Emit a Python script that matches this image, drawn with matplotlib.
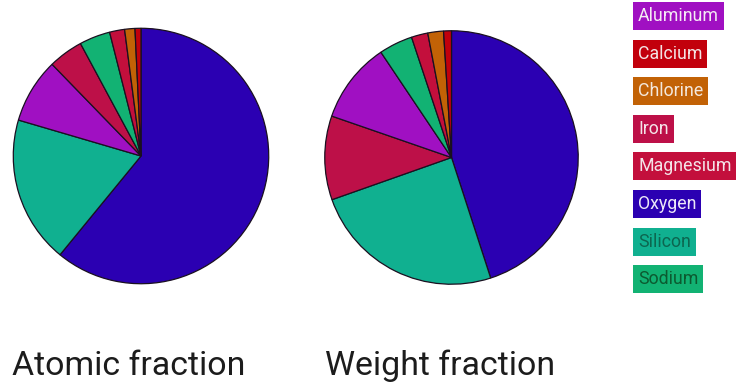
import matplotlib.pyplot as plt

plt.rcParams['font.family'] = ['Roboto', 'DejaVu Sans']

# element composition, percent
elements = ["Aluminum", "Calcium", "Chlorine", "Iron", "Magnesium", "Oxygen", "Silicon", "Sodium"]
atomic_pct = [8.2, 0.75, 1.3, 4.4, 1.9, 60.9, 18.6, 3.9]
weight_pct = [10.3, 1.0, 2.0, 10.7, 2.1, 45.0, 24.6, 4.3]

colors = ["#a010c2", "#c2000c", "#c26206", "#bd1048", "#c30f3c", "#2b00b2", "#10b090", "#12b273"]
text_colors = ["#f4eaf4", "#f4e4e4", "#f4e8dc", "#f4e4e8", "#f4e4e8", "#ece8f8", "#0c6650", "#0c5a30"]

W, H = 739, 389
fig = plt.figure(figsize=(W / 100, H / 100), dpi=100)


def pie_axes(cx, cy, r):
    return fig.add_axes([(cx - r) / W, 1 - (cy + r) / H, 2 * r / W, 2 * r / H])


def draw_pie(ax, values):
    # largest first, clockwise from 12 o'clock
    order = sorted(range(len(values)), key=lambda i: -values[i])
    ax.pie([values[i] for i in order], colors=[colors[i] for i in order],
           startangle=90, counterclock=False, radius=1,
           wedgeprops=dict(edgecolor="#1a1020", linewidth=0.9))
    ax.set_xlim(-1.01, 1.01)
    ax.set_ylim(-1.01, 1.01)
    ax.set_aspect("equal")
    ax.axis("off")


draw_pie(pie_axes(141, 156, 129), atomic_pct)
draw_pie(pie_axes(451.5, 157.5, 128), weight_pct)

fig.text(12 / W, 1 - 375 / H, "Atomic fraction", fontsize=24.4, color="#1c1c1c", va="baseline")
fig.text(325 / W, 1 - 375 / H, "Weight fraction", fontsize=24.4, color="#1c1c1c", va="baseline")

# legend as coloured labels
for i, (name, c, tc) in enumerate(zip(elements, colors, text_colors)):
    y = 16 + i * 37.6
    fig.text(638 / W, 1 - y / H, name, fontsize=12.8, color=tc, va="center", ha="left",
             bbox=dict(boxstyle="square,pad=0.28", facecolor=c, edgecolor="none"))

fig.savefig("out.png", dpi=100)
